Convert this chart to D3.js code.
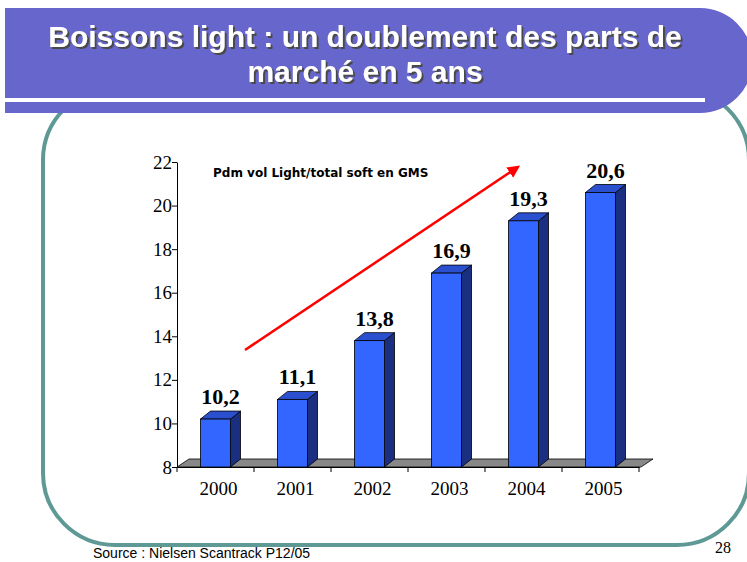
<!DOCTYPE html>
<html>
<head>
<meta charset="utf-8">
<script src="https://cdn.jsdelivr.net/npm/d3@7"></script>
<style>
  body { margin: 0; background: #fff; }
  svg { display: block; }
</style>
</head>
<body>
<div id="chart"></div>
<script>
// data
const years = ['2000', '2001', '2002', '2003', '2004', '2005']
const shares = [10.2, 11.1, 13.8, 16.9, 19.3, 20.6]
const shareLabels = ['10,2', '11,1', '13,8', '16,9', '19,3', '20,6']
const yTicks = [8, 10, 12, 14, 16, 18, 20, 22]
const titleLines = ['Boissons light : un doublement des parts de', 'marché en 5 ans']
const subtitle = 'Pdm vol Light/total soft en GMS'
const source = 'Source : Nielsen Scantrack P12/05'
const pageNumber = '28'

const draw = () => {
  const dimensions = {
    width: 747,
    height: 562,
    plotLeft: 177,
    plotRight: 639,
    plotTop: 162,
    plotBottom: 467,
    depthX: 10,
    depthY: 8,
  }

  const svg = d3
    .select('#chart')
    .append('svg')
    .attr('width', dimensions.width)
    .attr('height', dimensions.height)

  const defs = svg.append('defs')

  // soft grey shadow under the title text
  defs
    .append('filter')
    .attr('id', 'shadow')
    .attr('x', '-5%')
    .attr('y', '-20%')
    .attr('width', '110%')
    .attr('height', '140%')
    .append('feDropShadow')
    .attr('dx', 2)
    .attr('dy', 2)
    .attr('stdDeviation', 0.6)
    .attr('flood-color', '#4a4a4a')
    .attr('flood-opacity', 1)

  // arrow head for the trend line
  defs
    .append('marker')
    .attr('id', 'head')
    .attr('viewBox', '0 0 10 10')
    .attr('refX', 8)
    .attr('refY', 5)
    .attr('markerWidth', 5)
    .attr('markerHeight', 5)
    .attr('orient', 'auto')
    .append('path')
    .attr('d', 'M0,0 L10,5 L0,10 Z')
    .attr('fill', '#ff0000')

  // teal rounded frame (top hidden under the banner)
  svg
    .append('rect')
    .attr('x', 43)
    .attr('y', 88)
    .attr('width', 706)
    .attr('height', 457)
    .attr('rx', 72)
    .attr('fill', 'none')
    .attr('stroke', '#5f9995')
    .attr('stroke-width', 4)

  // title banner
  svg
    .append('path')
    .attr('d', 'M5,8 H700 A52,52 0 0 1 700,113 H5 Z')
    .attr('fill', '#6666cc')
  svg
    .append('rect')
    .attr('x', 5)
    .attr('y', 98)
    .attr('width', 700)
    .attr('height', 4)
    .attr('fill', '#fff')

  svg
    .append('g')
    .style('font-family', 'Liberation Sans, Arial, sans-serif')
    .style('font-weight', 'bold')
    .style('font-size', '30px')
    .attr('text-anchor', 'middle')
    .attr('fill', '#fff')
    .attr('filter', 'url(#shadow)')
    .selectAll('text')
    .data(titleLines)
    .join('text')
    .attr('x', 365)
    .attr('y', (d, i) => 47 + i * 35)
    .text((d) => d)

  // scales
  const xScale = d3
    .scaleBand()
    .domain(years)
    .range([dimensions.plotLeft, dimensions.plotRight])
    .paddingInner(0.61)
    .paddingOuter(0.305)

  const yScale = d3
    .scaleLinear()
    .domain([8, 22])
    .range([dimensions.plotBottom, dimensions.plotTop])

  const ctr = svg.append('g')

  // floor
  const y0 = yScale(8)
  const dx = dimensions.depthX + 2
  const dy = dimensions.depthY
  ctr
    .append('polygon')
    .attr(
      'points',
      [
        [dimensions.plotLeft, y0],
        [dimensions.plotRight + 2, y0],
        [dimensions.plotRight + 2 + dx, y0 - dy],
        [dimensions.plotLeft + dx, y0 - dy],
      ].join(' ')
    )
    .attr('fill', '#888')
    .attr('stroke', '#000')
    .attr('stroke-width', 0.8)

  // red trend arrow
  ctr
    .append('line')
    .attr('x1', 245)
    .attr('y1', 350)
    .attr('x2', 518)
    .attr('y2', 167)
    .attr('stroke', '#ff0000')
    .attr('stroke-width', 2.5)
    .attr('marker-end', 'url(#head)')

  // 3d bars
  const bars = ctr
    .selectAll('g.bar')
    .data(years.map((year, i) => ({ year, value: shares[i], label: shareLabels[i] })))
    .join('g')
    .classed('bar', true)

  const ddx = dimensions.depthX
  const ddy = dimensions.depthY
  const bw = xScale.bandwidth()

  bars
    .append('polygon')
    .attr('points', (d) => {
      const x = xScale(d.year) + bw
      const yt = yScale(d.value)
      return [[x, yt], [x + ddx, yt - ddy], [x + ddx, y0 - ddy], [x, y0]].join(' ')
    })
    .attr('fill', '#1a2f80')
    .attr('stroke', '#000')
    .attr('stroke-width', 0.8)

  bars
    .append('polygon')
    .attr('points', (d) => {
      const x = xScale(d.year)
      const yt = yScale(d.value)
      return [[x, yt], [x + ddx, yt - ddy], [x + bw + ddx, yt - ddy], [x + bw, yt]].join(' ')
    })
    .attr('fill', '#2a4fcf')
    .attr('stroke', '#000')
    .attr('stroke-width', 0.8)

  bars
    .append('rect')
    .attr('x', (d) => xScale(d.year))
    .attr('y', (d) => yScale(d.value))
    .attr('width', bw)
    .attr('height', (d) => y0 - yScale(d.value))
    .attr('fill', '#3366ff')
    .attr('stroke', '#000')
    .attr('stroke-width', 0.8)

  bars
    .append('text')
    .attr('x', (d) => xScale(d.year) + bw / 2 + ddx / 2)
    .attr('y', (d) => yScale(d.value) - ddy - 7)
    .attr('text-anchor', 'middle')
    .style('font-family', 'Liberation Serif, Times New Roman, serif')
    .style('font-weight', 'bold')
    .style('font-size', '22px')
    .text((d) => d.label)

  // y axis
  const yAxis = d3.axisLeft(yScale).tickValues(yTicks).tickSize(5).tickSizeOuter(0)
  const yAxisGroup = ctr
    .append('g')
    .attr('transform', `translate(${dimensions.plotLeft}, 0)`)
    .call(yAxis)
  yAxisGroup.selectAll('text')
    .style('font-family', 'Liberation Serif, Times New Roman, serif')
    .style('font-size', '19px')
    .attr('fill', '#000')
    .attr('x', -5)
  yAxisGroup.selectAll('line, path').attr('stroke', '#000')

  // x axis: labels centred, ticks on the category boundaries
  const xAxis = d3.axisBottom(xScale).tickSize(0).tickSizeOuter(0).tickPadding(15)
  const xAxisGroup = ctr
    .append('g')
    .attr('transform', `translate(0, ${y0})`)
    .call(xAxis)
  xAxisGroup.select('.domain').attr('stroke', '#000')
  xAxisGroup.selectAll('text')
    .style('font-family', 'Liberation Serif, Times New Roman, serif')
    .style('font-size', '19px')
    .attr('fill', '#000')
    .attr('transform', `translate(${ddx / 2 - 2}, 0)`)

  xAxisGroup
    .selectAll('line.bound')
    .data(d3.range(years.length + 1))
    .join('line')
    .classed('bound', true)
    .attr('x1', (i) => dimensions.plotLeft + i * xScale.step())
    .attr('x2', (i) => dimensions.plotLeft + i * xScale.step())
    .attr('y1', 0)
    .attr('y2', 5)
    .attr('stroke', '#000')

  // subtitle inside the plot
  svg
    .append('text')
    .attr('x', 213)
    .attr('y', 177)
    .style('font-family', 'DejaVu Sans, Verdana, sans-serif')
    .style('font-weight', 'bold')
    .style('font-size', '12px')
    .text(subtitle)

  // footer
  svg
    .append('text')
    .attr('x', 93)
    .attr('y', 558)
    .style('font-family', 'Liberation Sans, Arial, sans-serif')
    .style('font-size', '14px')
    .text(source)

  svg
    .append('text')
    .attr('x', 715)
    .attr('y', 553)
    .style('font-family', 'Liberation Serif, Times New Roman, serif')
    .style('font-size', '16px')
    .text(pageNumber)
}

draw()
</script>
</body>
</html>
